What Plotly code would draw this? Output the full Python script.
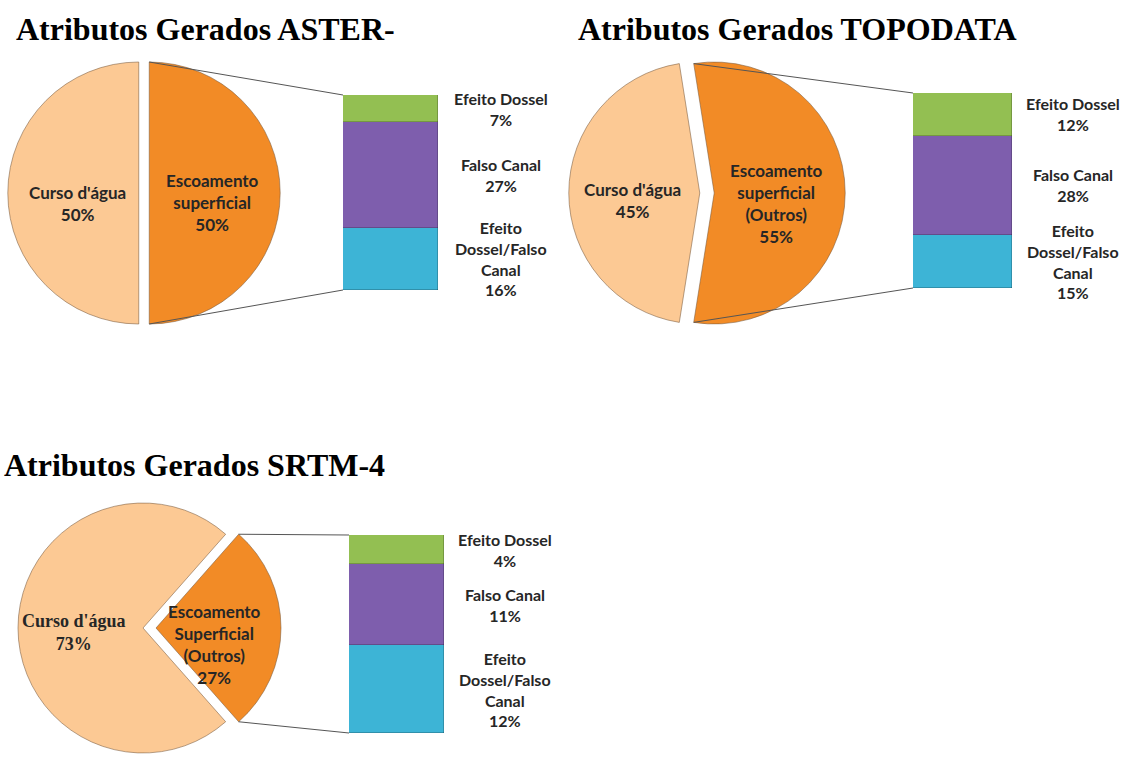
import math
import plotly.graph_objects as go

W, H = 1127, 762

# ---------------- data ----------------
titles = ["Atributos Gerados ASTER-", "Atributos Gerados TOPODATA", "Atributos Gerados SRTM-4"]
pie_labels = ["Escoamento superficial", "Curso d'água"]
aster_pie = [50, 50]
topo_pie = [55, 45]
srtm_pie = [27, 73]
bar_labels = ["Efeito Dossel", "Falso Canal", "Efeito Dossel/Falso Canal"]   # top -> bottom
aster_bar = [7, 27, 16]
topo_bar = [12, 28, 15]
srtm_bar = [4, 11, 12]

# display texts (line-broken)
esc_texts = [["Escoamento", "superficial"],
             ["Escoamento", "superficial", "(Outros)"],
             ["Escoamento", "Superficial", "(Outros)"]]
curso_text = ["Curso d'água"]
bar_texts = [["Efeito Dossel"], ["Falso Canal"], ["Efeito", "Dossel/Falso", "Canal"]]

# ---------------- styles / layout (pixels) ----------------
C_CURSO = "#FCC994"
C_ESC = "#F28B26"
C_BAR = ["#93BF52", "#7E5EAD", "#3DB4D6"]   # top -> bottom
TXT = "#262626"
SANS = "Lato"
SERIF = "Liberation Serif"

charts = [
    dict(pie=aster_pie, bar=aster_bar, cx=144, cy=193, r=131, pull=[0.04, 0.04], rot=0,
         bx=(343, 438), by=(95, 290), tpos=(14, 29), tsize=32,
         esc_pos=(212, 202), curso_pos=(77, 203), lab_x=501, curso_font=SANS, curso_size=17),
    dict(pie=topo_pie, bar=topo_bar, cx=707, cy=193, r=131, pull=[0.055, 0.055], rot=-9,
         bx=(913, 1012), by=(93, 288), tpos=(576, 29), tsize=32,
         esc_pos=(776, 203), curso_pos=(632, 201), lab_x=1073, curso_font=SANS, curso_size=17),
    dict(pie=srtm_pie, bar=srtm_bar, cx=147, cy=628, r=125, pull=[0.072, 0.032],
         rot=90 - 360 * srtm_pie[0] / sum(srtm_pie) / 2,
         bx=(349, 444), by=(535, 733), tpos=(2, 465), tsize=32,
         esc_pos=(215, 644), curso_pos=(74, 632), lab_x=505, curso_font=SERIF, curso_size=18),
]


def px(x, y):
    return x / W, 1 - y / H


def bold(lines):
    return "<br>".join("<b>%s</b>" % s for s in lines)


fig = go.Figure()
annotations = []
shapes = []

for i, (c, title) in enumerate(zip(charts, titles)):
    n = i + 1
    r = c["r"]
    half = r * (1 + max(c["pull"]))
    x0, y1 = px(c["cx"] - half, c["cy"] - half)
    x1, y0 = px(c["cx"] + half, c["cy"] + half)
    fig.add_trace(go.Pie(
        labels=pie_labels, values=c["pie"], sort=False, direction="clockwise",
        rotation=c["rot"], pull=c["pull"], textinfo="none", hoverinfo="label+percent",
        marker=dict(colors=[C_ESC, C_CURSO], line=dict(color="rgba(120,90,60,0.55)", width=1)),
        domain=dict(x=[max(0, x0), min(1, x1)], y=[max(0, y0), min(1, y1)]),
        showlegend=False,
    ))

    # stacked bar (bottom -> top)
    xa = "x" if n == 1 else "x%d" % n
    ya = "y" if n == 1 else "y%d" % n
    vals = c["bar"]
    for lab, v, col in list(zip(bar_labels, vals, C_BAR))[::-1]:
        fig.add_trace(go.Bar(x=[0], y=[v], name=lab,
                             marker=dict(color=col, line=dict(color="rgba(0,0,0,0.25)", width=0.8)),
                             width=1, xaxis=xa, yaxis=ya, showlegend=False))
    bx0, by1 = px(c["bx"][0], c["by"][0])
    bx1, by0 = px(c["bx"][1], c["by"][1])
    total = sum(vals)
    fig.update_layout(**{
        ("xaxis" if n == 1 else "xaxis%d" % n): dict(domain=[bx0, bx1], range=[-0.5, 0.5], visible=False,
                                                      anchor=ya),
        ("yaxis" if n == 1 else "yaxis%d" % n): dict(domain=[by0, by1], range=[0, total], visible=False,
                                                      anchor=xa),
    })

    # bar labels
    top = total
    for lab_lines, v in zip(bar_texts, vals):
        mid = top - v / 2
        top -= v
        annotations.append(dict(text=bold(lab_lines + ["%d%%" % v]), xref="paper", x=c["lab_x"] / W,
                                yref=ya, y=mid, showarrow=False, xanchor="center", yanchor="middle",
                                font=dict(family=SANS, size=16, color=TXT), align="center"))

    # pie labels
    tot = sum(c["pie"])
    ex, ey = px(*c["esc_pos"])
    annotations.append(dict(text=bold(esc_texts[i] + ["%d%%" % round(100 * c["pie"][0] / tot)]),
                            xref="paper", yref="paper", x=ex, y=ey, showarrow=False,
                            xanchor="center", yanchor="middle",
                            font=dict(family=SANS, size=17, color=TXT), align="center"))
    qx, qy = px(*c["curso_pos"])
    annotations.append(dict(text=bold(curso_text + ["%d%%" % round(100 * c["pie"][1] / tot)]),
                            xref="paper", yref="paper", x=qx, y=qy, showarrow=False,
                            xanchor="center", yanchor="middle",
                            font=dict(family=c["curso_font"], size=c["curso_size"], color=TXT), align="center"))

    # title
    tx, ty = px(*c["tpos"])
    annotations.append(dict(text="<b>%s</b>" % title, xref="paper", yref="paper", x=tx, y=ty,
                            xanchor="left", yanchor="middle", showarrow=False,
                            font=dict(family=SERIF, size=c["tsize"], color="black")))

    # connector lines from the exploded slice edges to the bar
    a0 = math.radians(c["rot"])
    a1 = math.radians(c["rot"] + 360 * c["pie"][0] / tot)
    am = (a0 + a1) / 2
    vx = c["cx"] + c["pull"][0] * r * math.sin(am)
    vy = c["cy"] - c["pull"][0] * r * math.cos(am)
    p_top = (vx + r * math.sin(a0), vy - r * math.cos(a0))
    p_bot = (vx + r * math.sin(a1), vy - r * math.cos(a1))
    for (sx, sy), (ex2, ey2) in [(p_top, (c["bx"][0], c["by"][0])), (p_bot, (c["bx"][0], c["by"][1]))]:
        X0, Y0 = px(sx, sy)
        X1, Y1 = px(ex2, ey2)
        shapes.append(dict(type="line", xref="paper", yref="paper", x0=X0, y0=Y0, x1=X1, y1=Y1,
                           line=dict(color="#555555", width=1)))

fig.update_layout(
    width=W, height=H, margin=dict(l=0, r=0, t=0, b=0),
    paper_bgcolor="white", plot_bgcolor="rgba(0,0,0,0)",
    barmode="stack", bargap=0,
    annotations=annotations, shapes=shapes,
)

fig.write_html("out.html", config={"displayModeBar": False},
               post_script="document.body.style.margin='0px';document.body.style.overflow='hidden';")
